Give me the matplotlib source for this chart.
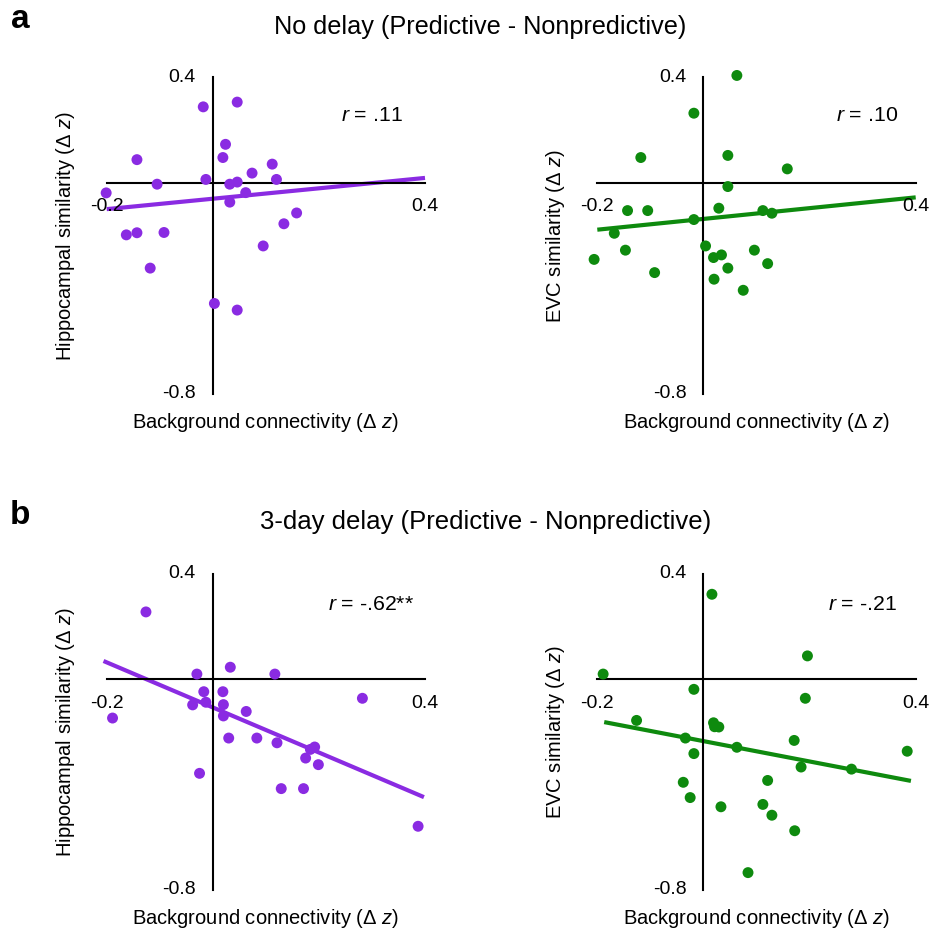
import numpy as np
import matplotlib
matplotlib.use("Agg")
import matplotlib.pyplot as plt

plt.rcParams['font.family'] = ['Liberation Sans', 'DejaVu Sans']
plt.rcParams['mathtext.fontset'] = 'custom'
plt.rcParams['mathtext.rm'] = 'Liberation Sans'
plt.rcParams['mathtext.it'] = 'Liberation Sans:italic'

PURPLE = '#8A2BE2'
GREEN = '#0E8A0E'

# ---- data ----
a_hip_x = [-0.201, -0.163, -0.143, -0.143, -0.118, -0.105, -0.092, -0.018, -0.013, 0.003,
           0.019, 0.024, 0.032, 0.032, 0.046, 0.046, 0.046, 0.062, 0.074, 0.095,
           0.112, 0.120, 0.134, 0.158]
a_hip_y = [-0.038, -0.197, -0.189, 0.088, -0.323, -0.005, -0.188, 0.288, 0.013, -0.457,
           0.096, 0.146, -0.005, -0.073, 0.306, 0.003, -0.482, -0.037, 0.037, -0.239,
           0.071, 0.013, -0.155, -0.114]

a_evc_x = [-0.206, -0.168, -0.147, -0.143, -0.118, -0.105, -0.092, -0.018, -0.018, 0.004,
           0.019, 0.020, 0.029, 0.034, 0.046, 0.046, 0.046, 0.063, 0.075, 0.096,
           0.112, 0.121, 0.129, 0.158]
a_evc_y = [-0.290, -0.191, -0.255, -0.105, 0.096, -0.105, -0.340, 0.264, -0.139, -0.239,
           -0.283, -0.365, -0.096, -0.273, 0.104, -0.014, -0.323, 0.407, -0.407, -0.255,
           -0.105, -0.306, -0.115, 0.053]

b_hip_x = [-0.189, -0.126, -0.038, -0.030, -0.025, -0.017, -0.013, 0.019, 0.020, 0.020,
           0.030, 0.033, 0.063, 0.083, 0.117, 0.121, 0.129, 0.171, 0.175, 0.184,
           0.192, 0.199, 0.282, 0.387]
b_hip_y = [-0.147, 0.256, -0.097, 0.020, -0.357, -0.047, -0.087, -0.047, -0.096, -0.139,
           -0.223, 0.046, -0.122, -0.223, 0.020, -0.241, -0.415, -0.415, -0.299, -0.266,
           -0.257, -0.324, -0.072, -0.558]

b_evc_x = [-0.189, -0.126, -0.038, -0.034, -0.025, -0.018, -0.018, 0.016, 0.019, 0.021,
           0.029, 0.033, 0.063, 0.084, 0.112, 0.121, 0.129, 0.171, 0.172, 0.184,
           0.192, 0.196, 0.279, 0.384]
b_evc_y = [0.020, -0.156, -0.391, -0.223, -0.449, -0.038, -0.282, 0.323, -0.165, -0.180,
           -0.181, -0.484, -0.258, -0.734, -0.475, -0.384, -0.516, -0.232, -0.575, -0.333,
           -0.072, 0.089, -0.341, -0.273]

# x-extent of each fitted line
line_x = {
    'a_hip': [-0.2, 0.4],
    'a_evc': [-0.2, 0.4],
    'b_hip': [-0.206, 0.398],
    'b_evc': [-0.187, 0.391],
}

r_labels = {'a_hip': '.11', 'a_evc': '.10', 'b_hip': '-.62**', 'b_evc': '-.21'}

x_tick_labels = ['-0.2', '0.4']
y_tick_labels = ['0.4', '-0.8']
x_lim = (-0.2, 0.4)
y_lim = (-0.8, 0.4)

fig = plt.figure(figsize=(9.32, 9.31), dpi=100)
W, H = 932.0, 931.0


def make_ax(left_px, top_px, right_px, bottom_px):
    return fig.add_axes([left_px / W, 1 - bottom_px / H,
                         (right_px - left_px) / W, (bottom_px - top_px) / H])


panels = [
    ('a_hip', a_hip_x, a_hip_y, PURPLE, 'Hippocampal similarity (Δ $z$)', (106.7, 77.3, 425.0, 394.0), (0.358, 0.256)),
    ('a_evc', a_evc_x, a_evc_y, GREEN, 'EVC similarity (Δ $z$)', (597.3, 77.3, 915.7, 394.0), (0.367, 0.256)),
    ('b_hip', b_hip_x, b_hip_y, PURPLE, 'Hippocampal similarity (Δ $z$)', (106.7, 574.0, 425.0, 890.0), (0.379, 0.283)),
    ('b_evc', b_evc_x, b_evc_y, GREEN, 'EVC similarity (Δ $z$)', (597.3, 574.0, 915.7, 890.0), (0.364, 0.283)),
]

FS_TICK = 14
FS_LAB = 14.5
FS_R = 15.3
for key, xs, ys, col, ylab, box, rpos in panels:
    ax = make_ax(*box)
    ax.set_xlim(*x_lim)
    ax.set_ylim(*y_lim)
    for s in ('top', 'right'):
        ax.spines[s].set_visible(False)
    ax.spines['left'].set_position(('data', 0))
    ax.spines['bottom'].set_position(('data', 0))
    for s in ('left', 'bottom'):
        ax.spines[s].set_linewidth(1.5)
        ax.spines[s].set_color('black')
    ax.set_xticks([])
    ax.set_yticks([])
    ax.patch.set_visible(False)

    ax.scatter(xs, ys, s=62, color=col, edgecolors='none', zorder=3, clip_on=False)
    slope, icpt = np.polyfit(xs, ys, 1)
    lx = np.array(line_x[key])
    ax.plot(lx, slope * lx + icpt, color=col, lw=3, solid_capstyle='butt', zorder=2, clip_on=False)

    # end labels
    ax.annotate(x_tick_labels[0], xy=(x_lim[0], 0), xytext=(0, -24), textcoords='offset pixels',
                ha='center', va='center', fontsize=FS_TICK)
    ax.annotate(x_tick_labels[1], xy=(x_lim[1], 0), xytext=(0, -24), textcoords='offset pixels',
                ha='center', va='center', fontsize=FS_TICK)
    ax.annotate(y_tick_labels[0], xy=(0, y_lim[1]), xytext=(-17, 0), textcoords='offset pixels',
                ha='right', va='center', fontsize=FS_TICK)
    ax.annotate(y_tick_labels[1], xy=(0, y_lim[0]), xytext=(-17, 0), textcoords='offset pixels',
                ha='right', va='center', fontsize=FS_TICK)

    ax.text(rpos[0], rpos[1], '$r$ = ' + r_labels[key], ha='right', va='center', fontsize=FS_R)

    ax.text(0.5, -0.09, 'Background connectivity (Δ $z$)', transform=ax.transAxes,
            ha='center', va='center', fontsize=FS_LAB)
    ax.text(-0.13, 0.5, ylab, transform=ax.transAxes, rotation=90,
            ha='center', va='center', fontsize=FS_LAB)

fig.text(480 / W, 1 - 27 / H, 'No delay (Predictive - Nonpredictive)', ha='center', va='center', fontsize=18.2)
fig.text(486 / W, 1 - 522 / H, '3-day delay (Predictive - Nonpredictive)', ha='center', va='center', fontsize=18.5)
fig.text(20 / W, 1 - 19 / H, 'a', ha='center', va='center', fontsize=24, fontweight='bold')
fig.text(20 / W, 1 - 515 / H, 'b', ha='center', va='center', fontsize=24, fontweight='bold')

fig.savefig('out.png', dpi=100)
